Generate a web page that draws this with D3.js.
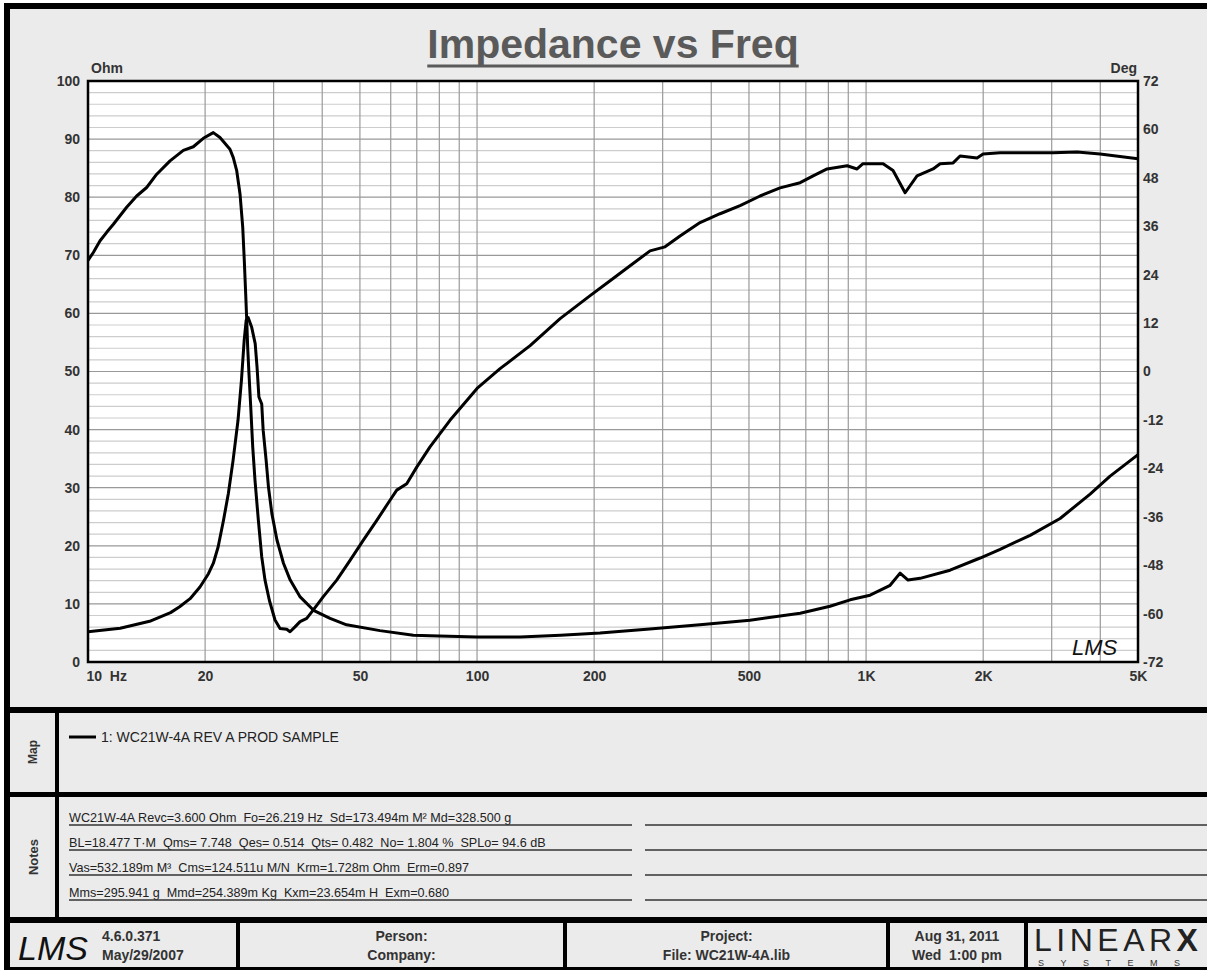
<!DOCTYPE html>
<html lang="en">
  <head>
    <meta charset="utf-8">
    <title>Impedance vs Freq</title>
    <style>
      body { margin: 0; background: #fff; }
      svg text { font-family: Arial, "Liberation Sans", sans-serif; }
      .axis text { font-size: 14px; font-weight: bold; fill: #333; }
      .curve { fill: none; stroke: #000; stroke-width: 3px; stroke-linejoin: round; }
    </style>
  </head>
  <body>
    <svg id="chart" width="1207" height="970"></svg>
    <script src="https://cdnjs.cloudflare.com/ajax/libs/d3/7.8.5/d3.min.js"></script>
    <script>
    // impedance magnitude (Ohm, left axis)
    const impFreq = [10, 12.1, 14.4, 16.3, 17.2, 18.3, 19.4, 20.4, 21.0, 21.6, 22.3, 22.95, 23.6, 24.3, 24.8, 25.2, 25.5, 25.8,
      26.35, 26.9, 27.2, 27.5, 27.96, 28.2, 28.7, 29.1, 29.7, 30.6, 31.8, 33.1, 35.1, 38.0, 41.9, 46.2, 56.3, 68.6, 75.7,
      100, 129, 164, 207, 278, 374, 503, 677, 808, 910, 1024, 1153, 1223, 1282, 1377, 1644, 1964, 2211, 2640, 3153, 3766, 4239, 5000];
    const impOhm = [5.2, 5.8, 7.0, 8.5, 9.5, 10.9, 12.9, 15.2, 17.0, 19.8, 24.4, 29.0, 34.7, 41.6, 48.5, 55.3, 58.8, 59.3,
      57.6, 54.8, 50.7, 45.6, 44.4, 39.9, 34.7, 30.1, 25.5, 21.0, 17.0, 14.1, 11.2, 8.9, 7.5, 6.4, 5.4, 4.6, 4.5,
      4.3, 4.3, 4.6, 5.0, 5.7, 6.4, 7.2, 8.4, 9.6, 10.7, 11.5, 13.2, 15.3, 14.1, 14.4, 15.8, 17.9, 19.4, 21.8, 24.7, 28.9, 32.0, 35.7];

    // impedance phase (Deg, right axis)
    const phaseFreq = [10, 10.32, 10.74, 11.17, 11.62, 12.57, 13.34, 14.15, 15.02, 16.25, 17.58, 18.65, 19.79, 20.99, 21.84,
      23.17, 23.63, 24.12, 24.59, 24.99, 25.22, 25.43, 25.59, 25.73, 25.93, 26.2, 26.51, 26.87, 27.41, 27.96, 28.51, 29.25,
      30.25, 31.16, 32.42, 33.06, 34.05, 35.08, 36.5, 37.95, 40.26, 43.58, 47.16, 51.03, 55.25, 59.74, 62.17, 65.96, 69.98,
      75.7, 85.2, 100, 114.6, 136.9, 163.5, 195.3, 219.8, 247.4, 278.4, 304.2, 332.5, 374.3, 421.4, 474.4, 534, 601, 677,
      731, 794, 894, 948, 982, 1106, 1173, 1260, 1352, 1487, 1550, 1674, 1744, 1929, 1999, 2211, 2688, 3025, 3487, 3995, 5000];
    const phaseDeg = [27.5, 29.5, 32.4, 34.5, 36.5, 40.7, 43.5, 45.6, 48.9, 52.2, 54.8, 55.7, 57.8, 59.2, 58.0,
      55.1, 53.0, 49.7, 44.0, 35.7, 27.5, 19.2, 12.6, 6.0, -0.6, -8.8, -18.7, -27.0, -36.9, -45.9, -51.7, -56.7,
      -61.6, -63.7, -63.9, -64.5, -63.3, -62.0, -61.2, -59.1, -55.8, -51.7, -46.8, -41.8, -36.9, -31.9, -29.4, -27.8, -23.7,
      -18.7, -12.1, -4.2, 0.7, 6.4, 13.1, 18.8, 22.5, 26.2, 29.9, 30.9, 33.6, 36.9, 39.1, 41.1, 43.5, 45.5, 46.8,
      48.5, 50.2, 51.0, 50.2, 51.5, 51.5, 49.8, 44.3, 48.5, 50.2, 51.5, 51.7, 53.4, 52.9, 53.9, 54.2, 54.2, 54.2, 54.4, 53.9, 52.7];

    const xTicks = [10, 20, 50, 100, 200, 500, 1000, 2000, 5000];
    const xTickLabels = ['10  Hz', '20', '50', '100', '200', '500', '1K', '2K', '5K'];
    const xGrid = [20, 30, 40, 50, 60, 70, 80, 90, 100, 200, 300, 400, 500, 600, 700, 800, 900, 1000, 2000, 3000, 4000];
    const ohmTicks = [0, 10, 20, 30, 40, 50, 60, 70, 80, 90, 100];
    const degTicks = [-72, -60, -48, -36, -24, -12, 0, 12, 24, 36, 48, 60, 72];

    const legendLabel = '1: WC21W-4A REV A PROD SAMPLE';
    const notes = [
      'WC21W-4A Revc=3.600 Ohm  Fo=26.219 Hz  Sd=173.494m M\u00b2 Md=328.500 g',
      'BL=18.477 T\u00b7M  Qms= 7.748  Qes= 0.514  Qts= 0.482  No= 1.804 %  SPLo= 94.6 dB',
      'Vas=532.189m M\u00b3  Cms=124.511u M/N  Krm=1.728m Ohm  Erm=0.897',
      'Mms=295.941 g  Mmd=254.389m Kg  Kxm=23.654m H  Exm=0.680'
    ];
    const footer = [
      ['Person:', 'Company:'],
      ['Project:', 'File: WC21W-4A.lib'],
      ['Aug 31, 2011', 'Wed  1:00 pm']
    ];
    const version = ['4.6.0.371', 'May/29/2007'];

    const W = 1207, H = 970;
    const plot = {left: 88, top: 81, right: 1138, bottom: 662};
    const panel = '#ebebeb';

    const svg = d3.select('#chart');

    // frame: black background, grey cells on top
    svg.append('rect').attr('x', 4).attr('y', 3).attr('width', W + 20).attr('height', H).attr('fill', '#000');
    function cell(x0, y0, x1, y1) {
      svg.append('rect').attr('x', x0).attr('y', y0).attr('width', x1 - x0).attr('height', y1 - y0).attr('fill', panel);
    }
    const R = W + 20;
    cell(10, 9, R, 707);          // chart
    cell(10, 713, 55, 792);       // map label
    cell(59, 713, R, 792);        // map body
    cell(10, 797, 55, 917);       // notes label
    cell(59, 797, R, 917);        // notes body
    const footCells = [[10, 236], [240, 563], [567, 886], [890, 1024], [1028, R]];
    footCells.forEach(c => cell(c[0], 923, c[1], 967));

    // title
    const title = svg.append('text')
      .attr('x', 613).attr('y', 58)
      .attr('text-anchor', 'middle')
      .attr('font-size', 41).attr('font-weight', 'bold')
      .attr('fill', '#5a5a5a')
      .text('Impedance vs Freq');
    const tw = title.node().getComputedTextLength();
    svg.append('line')
      .attr('x1', 613 - tw / 2).attr('x2', 613 + tw / 2)
      .attr('y1', 66).attr('y2', 66)
      .attr('stroke', '#5a5a5a').attr('stroke-width', 3);

    // scales
    const x = d3.scaleLog().domain([10, 5000]).range([plot.left, plot.right]);
    const y = d3.scaleLinear().domain([0, 100]).range([plot.bottom, plot.top]);
    const y2 = d3.scaleLinear().domain([-72, 72]).range([plot.bottom, plot.top]);

    svg.append('rect')
      .attr('x', plot.left).attr('y', plot.top)
      .attr('width', plot.right - plot.left).attr('height', plot.bottom - plot.top)
      .attr('fill', '#fff');

    // grid
    const grid = svg.append('g');
    grid.selectAll('line.h').data(d3.range(2, 100, 2)).join('line')
      .attr('x1', plot.left).attr('x2', plot.right)
      .attr('y1', d => y(d)).attr('y2', d => y(d))
      .attr('stroke', d => d % 10 === 0 ? '#999' : '#cdcdcd')
      .attr('stroke-width', 1.2);
    grid.selectAll('line.v').data(xGrid).join('line')
      .attr('x1', d => x(d)).attr('x2', d => x(d))
      .attr('y1', plot.top).attr('y2', plot.bottom)
      .attr('stroke', '#9a9a9a')
      .attr('stroke-width', 1.2);

    // curves
    svg.append('clipPath').attr('id', 'clip').append('rect')
      .attr('x', plot.left).attr('y', plot.top - 2)
      .attr('width', plot.right - plot.left).attr('height', plot.bottom - plot.top + 4);

    const impLine = d3.line().x(d => x(d[0])).y(d => y(d[1]));
    const phaseLine = d3.line().x(d => x(d[0])).y(d => y2(d[1]));

    svg.append('path')
      .datum(impFreq.map((f, i) => [f, impOhm[i]]))
      .attr('class', 'curve').attr('clip-path', 'url(#clip)')
      .attr('d', impLine);
    svg.append('path')
      .datum(phaseFreq.map((f, i) => [f, phaseDeg[i]]))
      .attr('class', 'curve').attr('clip-path', 'url(#clip)')
      .attr('d', phaseLine);

    // plot border
    svg.append('rect')
      .attr('x', plot.left).attr('y', plot.top)
      .attr('width', plot.right - plot.left).attr('height', plot.bottom - plot.top)
      .attr('fill', 'none').attr('stroke', '#000').attr('stroke-width', 2.5);

    // axes
    const yAxis = svg.append('g').attr('class', 'axis')
      .attr('transform', 'translate(' + plot.left + ',0)')
      .call(d3.axisLeft(y).tickValues(ohmTicks).tickSize(0).tickPadding(8));
    yAxis.select('.domain').remove();

    const y2Axis = svg.append('g').attr('class', 'axis')
      .attr('transform', 'translate(' + plot.right + ',0)')
      .call(d3.axisRight(y2).tickValues(degTicks).tickFormat(d => String(d)).tickSize(0).tickPadding(5));
    y2Axis.select('.domain').remove();

    const xAxis = svg.append('g').attr('class', 'axis')
      .attr('transform', 'translate(0,' + plot.bottom + ')')
      .call(d3.axisBottom(x).tickValues(xTicks).tickFormat((d, i) => xTickLabels[i]).tickSize(0).tickPadding(9));
    xAxis.select('.domain').remove();
    xAxis.selectAll('text').style('white-space', 'pre');
    xAxis.select('.tick text').attr('text-anchor', 'start').attr('x', -2);

    svg.append('text')
      .attr('x', 91).attr('y', 73)
      .attr('font-size', 14).attr('font-weight', 'bold').attr('fill', '#333')
      .text('Ohm');
    svg.append('text')
      .attr('x', 1137).attr('y', 73).attr('text-anchor', 'end')
      .attr('font-size', 14).attr('font-weight', 'bold').attr('fill', '#333')
      .text('Deg');

    // LMS mark in plot
    svg.append('text')
      .attr('x', 1072).attr('y', 655)
      .attr('font-family', '"DejaVu Serif", serif').attr('font-style', 'italic')
      .attr('font-size', 22).attr('fill', '#111')
      .text('LMS');

    // map section
    svg.append('text')
      .attr('transform', 'translate(37,752) rotate(-90)')
      .attr('text-anchor', 'middle')
      .attr('font-size', 12).attr('font-weight', 'bold').attr('fill', '#333')
      .text('Map');
    svg.append('line')
      .attr('x1', 69).attr('x2', 96).attr('y1', 737).attr('y2', 737)
      .attr('stroke', '#000').attr('stroke-width', 3);
    svg.append('text')
      .attr('x', 101).attr('y', 742)
      .attr('font-size', 14).attr('fill', '#222')
      .text(legendLabel);

    // notes section
    svg.append('text')
      .attr('transform', 'translate(38,857) rotate(-90)')
      .attr('text-anchor', 'middle')
      .attr('font-size', 13).attr('font-weight', 'bold').attr('fill', '#333')
      .text('Notes');
    const noteY = d3.scalePoint().domain(d3.range(notes.length)).range([825, 900]);
    const noteG = svg.append('g');
    noteG.selectAll('text').data(notes).join('text')
      .attr('x', 69).attr('y', (d, i) => noteY(i) - 3)
      .attr('font-size', 12.6).attr('fill', '#222')
      .style('white-space', 'pre')
      .text(d => d);
    noteG.selectAll('line.a').data(notes).join('line')
      .attr('x1', 69).attr('x2', 632)
      .attr('y1', (d, i) => noteY(i)).attr('y2', (d, i) => noteY(i))
      .attr('stroke', '#333').attr('stroke-width', 1.5);
    noteG.selectAll('line.b').data(notes).join('line')
      .attr('x1', 645).attr('x2', R)
      .attr('y1', (d, i) => noteY(i)).attr('y2', (d, i) => noteY(i))
      .attr('stroke', '#333').attr('stroke-width', 1.5);

    // footer
    svg.append('text')
      .attr('x', 18).attr('y', 960)
      .attr('font-family', '"DejaVu Serif", serif').attr('font-style', 'italic')
      .attr('font-size', 34).attr('fill', '#111')
      .text('LMS');
    version.forEach((t, i) => {
      svg.append('text')
        .attr('x', 102).attr('y', 941 + i * 19)
        .attr('font-size', 14).attr('font-weight', 'bold').attr('fill', '#333')
        .text(t);
    });
    footer.forEach((pair, j) => {
      const c = footCells[j + 1];
      pair.forEach((t, i) => {
        svg.append('text')
          .attr('x', (c[0] + c[1]) / 2).attr('y', 941 + i * 19)
          .attr('text-anchor', 'middle')
          .attr('font-size', 14).attr('font-weight', 'bold').attr('fill', '#333')
          .style('white-space', 'pre')
          .text(t);
      });
    });
    const logo = svg.append('text')
      .attr('x', 1034).attr('y', 951)
      .attr('font-family', '"Liberation Serif", "DejaVu Serif", serif')
      .attr('font-size', 32).attr('fill', '#222')
      .attr('letter-spacing', 4.5);
    logo.append('tspan').text('LINEAR');
    logo.append('tspan').attr('font-weight', 'bold').attr('font-family', 'Arial, sans-serif').text('X');
    svg.append('text')
      .attr('x', 1038).attr('y', 966)
      .attr('font-family', '"Liberation Serif", serif')
      .attr('font-size', 9).attr('fill', '#333')
      .attr('letter-spacing', 16.5)
      .text('SYSTEMS');
    </script>
  </body>
</html>
